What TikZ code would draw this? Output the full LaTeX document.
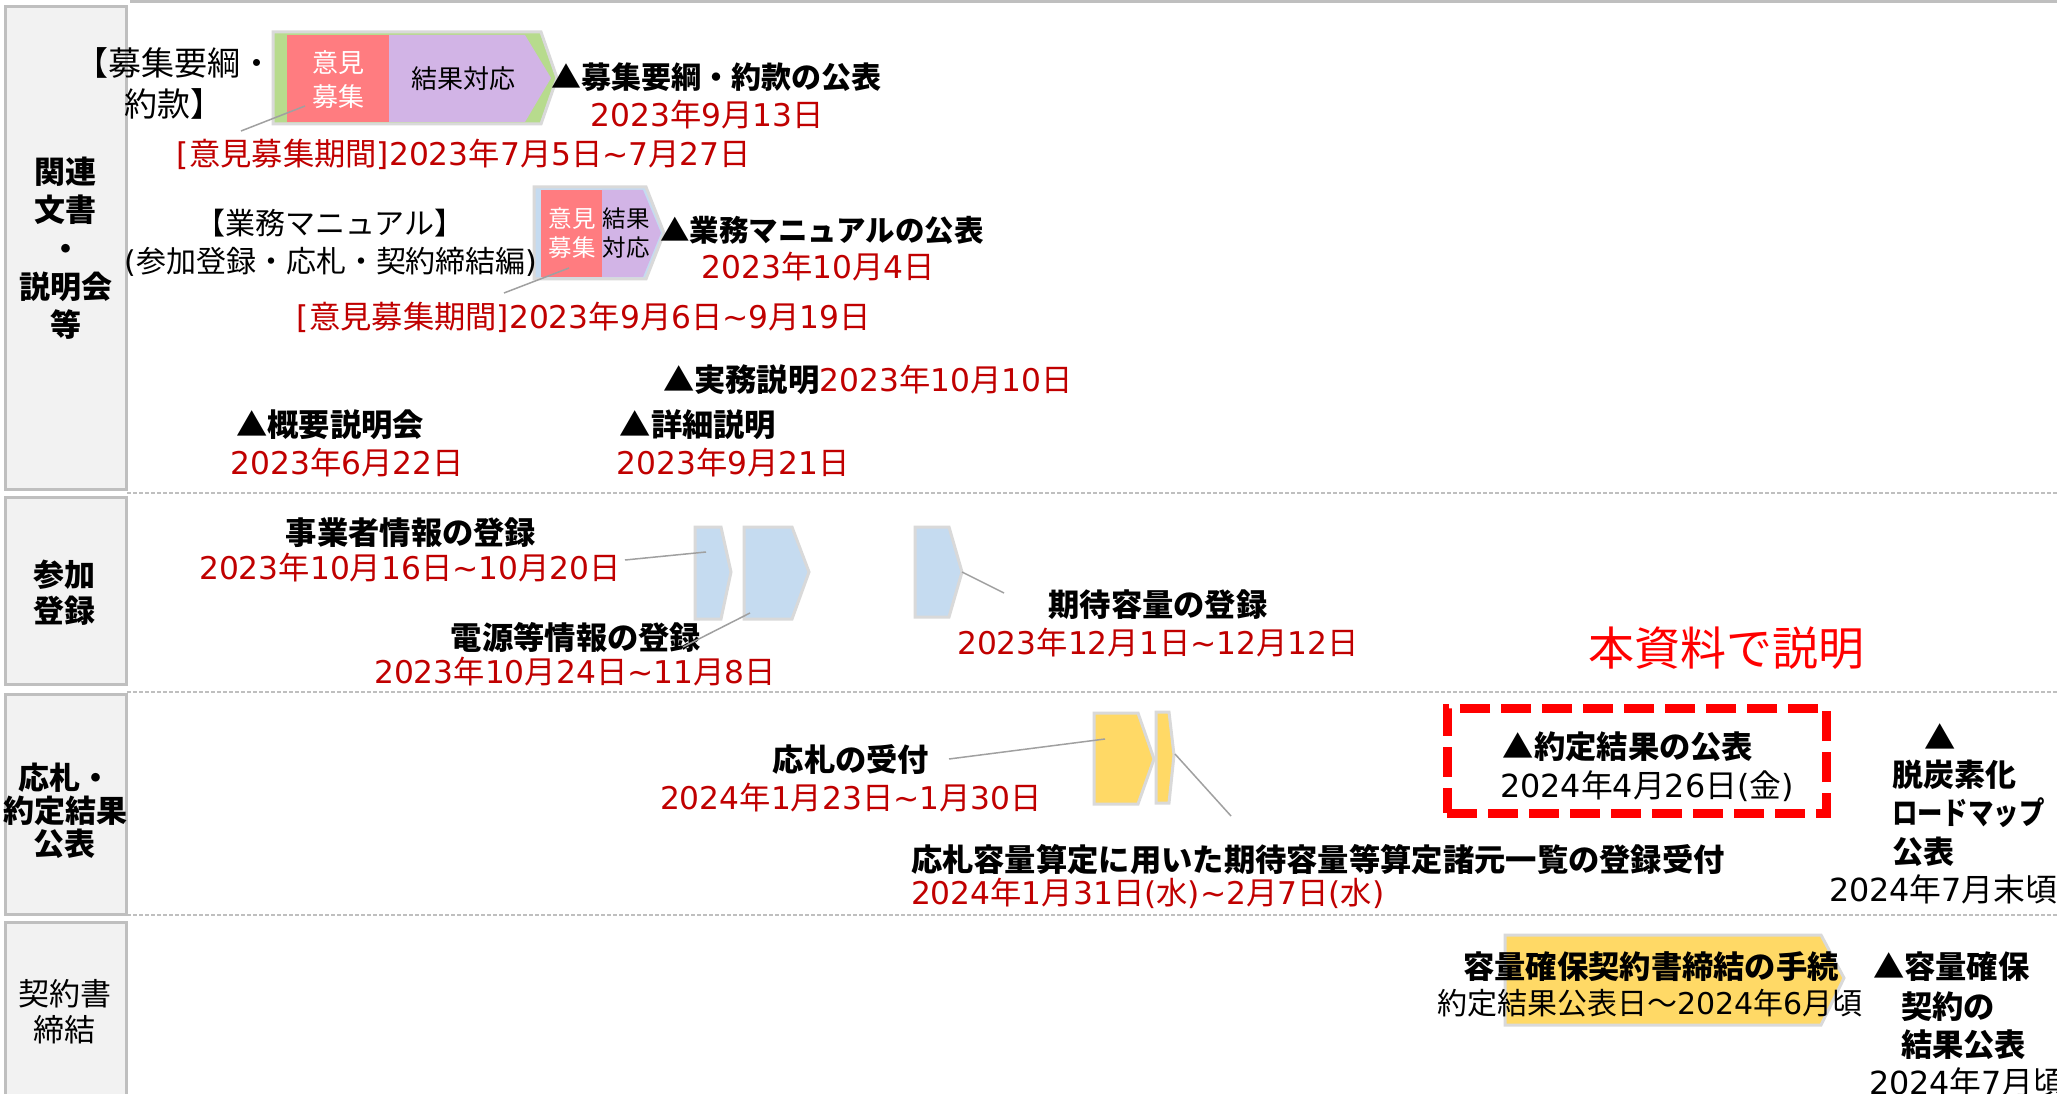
\documentclass[tikz,border=0pt]{standalone}
\usepackage{fontspec}
\setmainfont{Noto Sans CJK JP}
\newfontfamily\latfont{DejaVu Sans}
\makeatletter
\newXeTeXintercharclass\LatCls
\@tempcnta=48
\loop
\XeTeXcharclass\@tempcnta=\LatCls
\advance\@tempcnta\@ne
\ifnum\@tempcnta<58\repeat
\XeTeXcharclass 40=\LatCls
\XeTeXcharclass 41=\LatCls
\XeTeXcharclass 91=\LatCls
\XeTeXcharclass 93=\LatCls
\XeTeXcharclass 126=\LatCls
\@tempcnta=0
\loop
\XeTeXinterchartoks\@tempcnta\LatCls={\latfont}%
\XeTeXinterchartoks\LatCls\@tempcnta={\rmfamily}%
\advance\@tempcnta\@ne
\ifnum\@tempcnta<\LatCls\repeat
\XeTeXinterchartoks 4095 \LatCls={\latfont}
\makeatother
\XeTeXinterchartokenstate=1
\newcommand\tlde{\string~}
\definecolor{datered}{HTML}{C00000}
\definecolor{boxred}{HTML}{FF0000}
\definecolor{lblfill}{HTML}{F2F2F2}
\definecolor{lblline}{HTML}{BFBFBF}
\definecolor{shpline}{HTML}{D9D9D9}
\definecolor{leadgray}{HTML}{A0A0A0}
\definecolor{pinkc}{HTML}{FF7C80}
\definecolor{lavc}{HTML}{D2B4E6}
\definecolor{greenc}{HTML}{B7DB8D}
\definecolor{bluec}{HTML}{C5DBF0}
\definecolor{yellowc}{HTML}{FFD966}
\begin{document}
\begin{tikzpicture}[x=1pt,y=-1pt,
  every node/.style={inner sep=0pt,outer sep=0pt},
  lblbox/.style={fill=lblfill,draw=lblline,line width=3pt},
  sepline/.style={draw=lblline,line width=1.5pt,dash pattern=on 4pt off 2pt},
  shp/.style={draw=shpline,line width=3pt,line join=miter},
  lead/.style={draw=leadgray,line width=1.5pt},
  f30/.style={font=\fontsize{30}{38}\selectfont},
  f32/.style={font=\fontsize{31.8}{38}\selectfont},
  b30/.style={font=\fontsize{31.3}{38}\selectfont\bfseries},
  d30/.style={font=\fontsize{31.3}{38}\selectfont,text=datered},
]
\clip (0,0) rectangle (2057,1094);
\fill[white] (0,0) rectangle (2057,1094);

% top rule and separators
\draw[draw=lblline,line width=3pt] (130,1.5) -- (2057,1.5);
\draw[sepline] (127,493) -- (2057,493);
\draw[sepline] (127,692) -- (2057,692);
\draw[sepline] (127,915) -- (2057,915);

% row label boxes
\draw[lblbox] (5,7) rectangle (126,489);
\draw[lblbox] (5,497.5) rectangle (126,684);
\draw[lblbox] (5,694) rectangle (126,914);
\draw[lblbox] (5,922) rectangle (126,1110);
\node[align=center,font=\fontsize{31}{38.3}\selectfont\bfseries] (lab1) at (66,248.4) {関連\\文書\\・\\説明会\\等};
\node[align=center,font=\fontsize{31}{36}\selectfont\bfseries] (lab2) at (65,593) {参加\\登録};
\node[align=center,font=\fontsize{31}{33}\selectfont\bfseries] (lab3) at (65,811) {応札・\\約定結果\\公表};
\node[align=center,font=\fontsize{31}{36}\selectfont] (lab4) at (65,1012) {契約書\\締結};

% ---- row 1 ----
\draw[shp,fill=greenc] (273,32) -- (541,32) -- (557,78) -- (541,124) -- (273,124) -- cycle;
\fill[pinkc] (287,35) rectangle (389,122);
\fill[lavc] (389,35) -- (525,35) -- (551,78) -- (525,122) -- (389,122) -- cycle;
\node[align=center,text=white,font=\fontsize{26}{34}\selectfont] (op1) at (338,80) {意見\\募集};
\node[font=\fontsize{26}{34}\selectfont] (rs1) at (463,79) {結果対応};
\node[align=center,font=\fontsize{33}{41}\selectfont] (doc1) at (174,83) {【募集要綱・\\約款】};
\node[font=\fontsize{30}{38}\selectfont\bfseries,anchor=west] (pub1) at (551,77) {▲募集要綱・約款の公表};
\node[d30] (pub1d) at (707,115) {2023年9月13日};
\node[d30] (per1) at (464,154) {[意見募集期間]2023年7月5日\tlde 7月27日};
\coordinate (l1a) at (305,106);
\coordinate (l1b) at (241,131);
\draw[lead] (l1a) -- (l1b);

\draw[shp,fill=bluec] (534,187) -- (646,187) -- (664,233) -- (646,279) -- (534,279) -- cycle;
\fill[pinkc] (541,190) rectangle (602,277);
\fill[lavc] (602,190) -- (643,190) -- (661,233) -- (643,277) -- (602,277) -- cycle;
\node[align=center,text=white,font=\fontsize{23.5}{29}\selectfont] (op2) at (572,233.5) {意見\\募集};
\node[align=center,font=\fontsize{23.5}{29}\selectfont] (rs2) at (626,233.5) {結果\\対応};
\node[f30] (doc2a) at (330,223) {【業務マニュアル】};
\node[f30] (doc2b) at (331,262) {(参加登録・応札・契約締結編)};
\node[font=\fontsize{29.5}{38}\selectfont\bfseries,anchor=west] (pub2) at (660,230) {▲業務マニュアルの公表};
\node[d30] (pub2d) at (818,267) {2023年10月4日};
\node[d30] (per2) at (584,317) {[意見募集期間]2023年9月6日\tlde 9月19日};
\coordinate (l2a) at (569,268);
\coordinate (l2b) at (504,293);
\draw[lead] (l2a) -- (l2b);

\node[d30,anchor=west] (jitsu) at (663,380) {{\bfseries\color{black}▲実務説明}2023年10月10日};
\node[b30] (gaiyo) at (330,425) {▲概要説明会};
\node[d30] (gaiyod) at (347,463) {2023年6月22日};
\node[b30] (shosai) at (698,425) {▲詳細説明};
\node[d30] (shosaid) at (733,463) {2023年9月21日};

% ---- row 2 ----
\draw[shp,fill=bluec] (695,527) -- (721,527) -- (731,572) -- (721,619) -- (695,619) -- cycle;
\draw[shp,fill=bluec] (744,527) -- (792,527) -- (809,572) -- (792,619) -- (744,619) -- cycle;
\draw[shp,fill=bluec] (915,527) -- (949,527) -- (962,572) -- (949,617) -- (915,617) -- cycle;
\node[b30] (jig) at (411,533) {事業者情報の登録};
\node[d30] (jigd) at (410,568) {2023年10月16日\tlde 10月20日};
\node[b30] (den) at (576,637) {電源等情報の登録};
\node[d30] (dend) at (575,672) {2023年10月24日\tlde 11月8日};
\node[b30] (kit) at (1158,605) {期待容量の登録};
\node[d30] (kitd) at (1158,643) {2023年12月1日\tlde 12月12日};
\coordinate (l3a) at (625,560);
\coordinate (l3b) at (706,552);
\draw[lead] (l3a) -- (l3b);
\coordinate (l4a) at (750,613);
\coordinate (l4b) at (683,647);
\draw[lead] (l4a) -- (l4b);
\coordinate (l5a) at (962,572);
\coordinate (l5b) at (1004,593);
\draw[lead] (l5a) -- (l5b);
\node[text=boxred,font=\fontsize{46}{50}\selectfont] (honshi) at (1726,648) {本資料で説明};

% ---- row 3 ----
\draw[shp,fill=yellowc] (1094,713) -- (1138,713) -- (1154,759) -- (1138,804) -- (1094,804) -- cycle;
\draw[shp,fill=yellowc] (1156,712) -- (1169,712) -- (1174,755) -- (1169,803) -- (1156,803) -- cycle;
\node[b30] (ousatsu) at (851,760) {応札の受付};
\node[d30] (ousatsud) at (851,798) {2024年1月23日\tlde 1月30日};
\node[b30,anchor=west] (shogen) at (911,860) {応札容量算定に用いた期待容量等算定諸元一覧の登録受付};
\node[d30,anchor=west] (shogend) at (911,893) {2024年1月31日(水)\tlde 2月7日(水)};
\coordinate (l6a) at (949,759);
\coordinate (l6b) at (1105,739);
\draw[lead] (l6a) -- (l6b);
\coordinate (l7a) at (1175,754);
\coordinate (l7b) at (1231,816);
\draw[lead] (l7a) -- (l7b);
\node[draw=boxred,line width=9pt,dash pattern=on 30pt off 11pt,minimum width=379pt,minimum height=105pt] (hl) at (1636.5,760.5) {};
\node[b30] (yakujo) at (1628,747) {▲約定結果の公表};
\node[f32] (yakujod) at (1647,786) {2024年4月26日(金)};
\node[b30] (tri) at (1940,737) {▲};
\node[align=left,anchor=west,font=\fontsize{31}{38.5}\selectfont\bfseries] (roadmap) at (1892,813) {脱炭素化\\\scalebox{0.82}[1]{ロードマップ}\\公表};
\node[f32,anchor=west] (roadmapd) at (1829,889) {2024年7月末頃};

% ---- row 4 ----
\draw[shp,fill=yellowc] (1505,935) -- (1821,935) -- (1844,978) -- (1821,1025) -- (1505,1025) -- cycle;
\node[b30] (tetsu) at (1651,967) {容量確保契約書締結の手続};
\node[f30] (tetsud) at (1650,1003) {約定結果公表日～2024年6月頃};
\node[b30,anchor=west] (kk1) at (1873,967) {▲容量確保};
\node[b30,anchor=west] (kk2) at (1901,1007) {契約の};
\node[b30,anchor=west] (kk3) at (1901,1045) {結果公表};
\node[f32,anchor=west] (kkd) at (1869,1082) {2024年7月頃};
\end{tikzpicture}
\end{document}
